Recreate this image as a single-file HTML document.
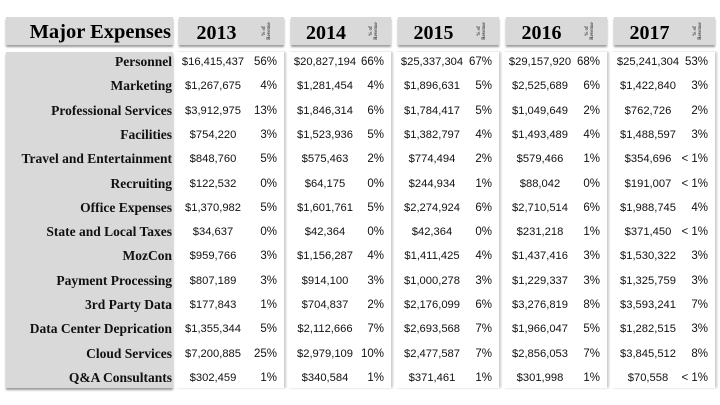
<!DOCTYPE html>
<html><head><meta charset="utf-8"><style>
body{margin:0;width:720px;height:405px;background:#fff;position:relative;overflow:hidden;font-family:"Liberation Sans",sans-serif}
.abs{position:absolute}
.hdr{background:#d9d9d9;box-shadow:0 2px 2px #999;top:17px;height:28px}
.yr{font-family:"Liberation Serif",serif;font-weight:bold;font-size:20px;top:22px;text-align:center}
.rev{font-family:"Liberation Serif",serif;font-size:5px;line-height:5px;transform:rotate(-90deg);transform-origin:center;text-align:center;width:26px;top:26px}
.lbl{background:#d9d9d9;left:6px;top:52px;width:167px;height:336px;box-shadow:0 2px 2px #999}
.col{top:52px;height:336px;box-shadow:2px 0 2px #ccc;background:#fff}
.name{font-family:"Liberation Serif",serif;font-weight:bold;font-size:13.5px;line-height:16px;right:548px;text-align:right;white-space:nowrap;color:#111}
.v{font-size:11.2px;line-height:16px;text-align:center;width:80px;white-space:nowrap;color:#111}
.p{font-size:11.5px;line-height:16px;text-align:right;width:40px;white-space:nowrap;color:#111}
</style></head><body>
<div id="root"></div>
<script>
const years=["2013","2014","2015","2016","2017"];
const rows=["Personnel","Marketing","Professional Services","Facilities","Travel and Entertainment","Recruiting","Office Expenses","State and Local Taxes","MozCon","Payment Processing","3rd Party Data","Data Center Deprication","Cloud Services","Q&A Consultants"];
const v2013=["$16,415,437","$1,267,675","$3,912,975","$754,220","$848,760","$122,532","$1,370,982","$34,637","$959,766","$807,189","$177,843","$1,355,344","$7,200,885","$302,459"];
const p2013=["56%","4%","13%","3%","5%","0%","5%","0%","3%","3%","1%","5%","25%","1%"];
const v2014=["$20,827,194","$1,281,454","$1,846,314","$1,523,936","$575,463","$64,175","$1,601,761","$42,364","$1,156,287","$914,100","$704,837","$2,112,666","$2,979,109","$340,584"];
const p2014=["66%","4%","6%","5%","2%","0%","5%","0%","4%","3%","2%","7%","10%","1%"];
const v2015=["$25,337,304","$1,896,631","$1,784,417","$1,382,797","$774,494","$244,934","$2,274,924","$42,364","$1,411,425","$1,000,278","$2,176,099","$2,693,568","$2,477,587","$371,461"];
const p2015=["67%","5%","5%","4%","2%","1%","6%","0%","4%","3%","6%","7%","7%","1%"];
const v2016=["$29,157,920","$2,525,689","$1,049,649","$1,493,489","$579,466","$88,042","$2,710,514","$231,218","$1,437,416","$1,229,337","$3,276,819","$1,966,047","$2,856,053","$301,998"];
const p2016=["68%","6%","2%","4%","1%","0%","6%","1%","3%","3%","8%","5%","7%","1%"];
const v2017=["$25,241,304","$1,422,840","$762,726","$1,488,597","$354,696","$191,007","$1,988,745","$371,450","$1,530,322","$1,325,759","$3,593,241","$1,282,515","$3,845,512","$70,558"];
const p2017=["53%","3%","2%","3%","< 1%","< 1%","4%","< 1%","3%","3%","7%","3%","8%","< 1%"];
const vals=[v2013,v2014,v2015,v2016,v2017], pcts=[p2013,p2014,p2015,p2016,p2017];
const colL=[179,291,398,506,614], colW=[105,100,101,101,101];
const root=document.getElementById('root');
function mk(cls,css,txt){const d=document.createElement('div');d.className='abs '+cls;d.style.cssText=css;if(txt!=null)d.textContent=txt;root.appendChild(d);return d;}
let e=mk('hdr','left:6px;width:167px');


e=mk('','left:6px;width:165px;top:21px;text-align:right;font-family:"Liberation Serif",serif;font-weight:bold;font-size:20.5px','Major Expenses');


e=mk('lbl','');


years.forEach((y,i)=>{
  const L=colL[i],W=colW[i];
  let h=mk('hdr','left:'+L+'px;width:'+W+'px');
  
  
  let t=mk('yr','left:'+L+'px;width:'+(W-30)+'px',y);
  
  
  let r=mk('rev','left:'+(L+W-30)+'px');r.innerHTML='% of<br>Revenue';
  
  
  let c=mk('col','left:'+(L-3)+'px;width:'+(W+3)+'px');
  
  
});
rows.forEach((n,r)=>{
  const top=54+r*24.3;
  let d=mk('name','top:'+top+'px',n);
  
  
  years.forEach((y,i)=>{
    const L=colL[i],W=colW[i];
    let v=mk('v','left:'+(L-6)+'px;top:'+top+'px',vals[i][r]);
    
    
    let p=mk('p','left:'+(L+W-47)+'px;top:'+top+'px',pcts[i][r]);
    
    
  });
});
</script>
</body></html>
